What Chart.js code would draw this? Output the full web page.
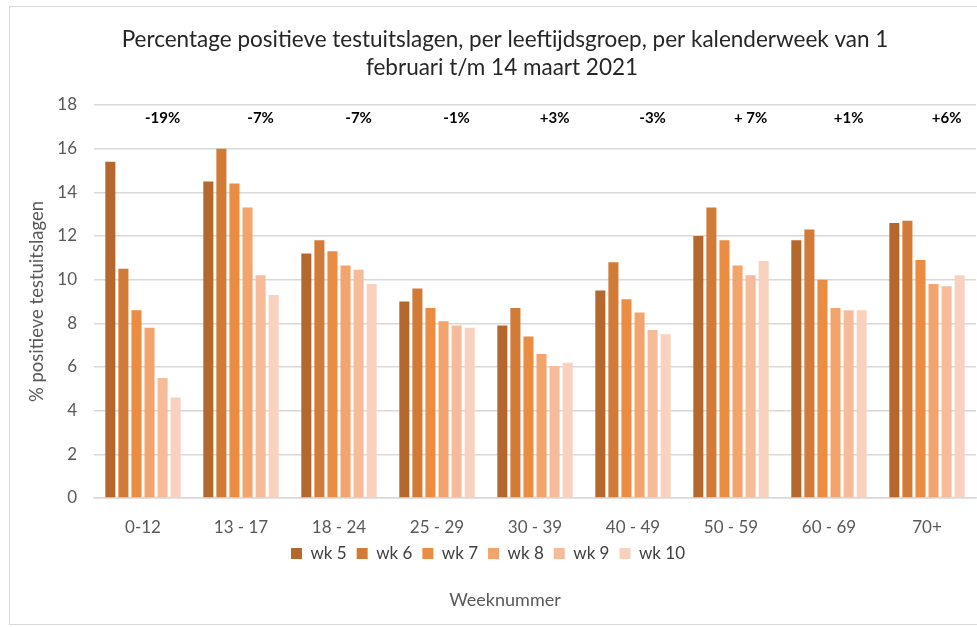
<!DOCTYPE html>
<html lang="nl">
<head>
<meta charset="utf-8">
<title>Percentage positieve testuitslagen per leeftijdsgroep</title>
<script src="https://cdn.jsdelivr.net/npm/chart.js@4.4.1/dist/chart.umd.min.js"></script>
<style>
  html, body { margin: 0; padding: 0; background: #fff; overflow: hidden; }
  #wrap  { position: relative; width: 977px; height: 627px; }
  #frame { position: absolute; left: 9px; top: 6px; width: 1000px; height: 619px;
           border: 1px solid #d9d9d9; box-sizing: border-box; }
  #chart { position: absolute; left: 0; top: 0; }
</style>
</head>
<body>
<div id="wrap">
  <div id="frame"></div>
  <canvas id="chart" width="977" height="627"></canvas>
</div>
<script>
// Percentage positieve testuitslagen per leeftijdsgroep, wk 5 t/m wk 10 (2021)

const AGE_GROUPS = ['0-12', '13 - 17', '18 - 24', '25 - 29', '30 - 39', '40 - 49', '50 - 59', '60 - 69', '70+'];
const WEEKS      = ['wk 5', 'wk 6', 'wk 7', 'wk 8', 'wk 9', 'wk 10'];

const WK5  = [15.4, 14.5, 11.2,  9.0, 7.9,  9.5, 12.0, 11.8, 12.6];
const WK6  = [10.5, 16.0, 11.8,  9.6, 8.7, 10.8, 13.3, 12.3, 12.7];
const WK7  = [ 8.6, 14.4, 11.3,  8.7, 7.4,  9.1, 11.8, 10.0, 10.9];
const WK8  = [ 7.8, 13.3, 10.65, 8.1, 6.6,  8.5, 10.65, 8.7,  9.8];
const WK9  = [ 5.5, 10.2, 10.45, 7.9, 6.05, 7.7, 10.2,  8.6,  9.7];
const WK10 = [ 4.6,  9.3,  9.8,  7.8, 6.2,  7.5, 10.85, 8.6, 10.2];

// change wk 5 -> wk 10 per group, as printed above the bars
const CHANGES = ['-19%', '-7%', '-7%', '-1%', '+3%', '-3%', '+ 7%', '+1%', '+6%'];

const Y_TICKS = [0, 2, 4, 6, 8, 10, 12, 14, 16, 18];

const TITLE_LINES = ['Percentage positieve testuitslagen, per leeftijdsgroep, per kalenderweek van 1',
                     'februari t/m 14 maart 2021'];
const Y_TITLE = '% positieve testuitslagen';
const X_TITLE = 'Weeknummer';

(function () {
  'use strict';

  const FONT    = 'Lato, "Open Sans", sans-serif';
  const GREY    = '#595959';
  const GRID    = '#d9d9d9';
  const COLOURS = ['#b5682e', '#d17b36', '#ea8c42', '#f3a46c', '#f6bb98', '#f9d2bf'];
  const SERIES  = [WK5, WK6, WK7, WK8, WK9, WK10];

  // ---- Extra text: title, percent changes, x-axis caption ---------------
  const textPlugin = {
    id: 'extraText',
    afterDatasetsDraw: function (chart) {
      const ctx = chart.ctx;
      const y   = chart.scales.y;
      // changes sit above the wk 9 bar of each group
      const anchor = chart.getDatasetMeta(4).data;
      ctx.save();
      ctx.fillStyle    = '#000';
      ctx.font         = 'bold 15px ' + FONT;
      ctx.textAlign    = 'center';
      ctx.textBaseline = 'middle';
      CHANGES.forEach(function (txt, i) {
        ctx.fillText(txt, anchor[i].x, y.getPixelForValue(17.4));
      });
      ctx.restore();
    },
    afterDraw: function (chart) {
      const ctx = chart.ctx;
      ctx.save();
      ctx.textAlign    = 'center';
      ctx.textBaseline = 'middle';
      ctx.fillStyle    = '#262626';
      ctx.font         = '22.5px ' + FONT;
      ctx.fillText(TITLE_LINES[0], 505, 40);
      ctx.fillText(TITLE_LINES[1], 502, 68);
      ctx.fillStyle    = GREY;
      ctx.font         = '18px ' + FONT;
      ctx.fillText(X_TITLE, 505, 600);
      ctx.restore();
    }
  };

  // ---- Chart --------------------------------------------------------------
  function init() {
    const canvas = document.getElementById('chart');
    if (!canvas) return;

    const datasets = WEEKS.map(function (wk, i) {
      return {
        label: wk,
        data: SERIES[i],
        backgroundColor: COLOURS[i],
        borderWidth: 0,
        categoryPercentage: 0.8,
        barPercentage: 0.77
      };
    });

    new Chart(canvas, {
      type: 'bar',
      data: { labels: AGE_GROUPS, datasets: datasets },
      plugins: [textPlugin],
      options: {
        responsive: false,
        animation: false,
        layout: { padding: { top: 105, right: 1, bottom: 55, left: 0 } },
        scales: {
          x: {
            afterFit: function (scale) { scale.height = 37; },
            grid: { display: false, drawTicks: false },
            border: { color: GRID, width: 1.5 },
            ticks: { color: GREY, padding: 19, font: { family: FONT, size: 17 } }
          },
          y: {
            min: 0,
            max: 18,
            afterBuildTicks: function (scale) {
              scale.ticks = Y_TICKS.map(function (v) { return { value: v }; });
            },
            afterFit: function (scale) { scale.width = 94; },
            grid: { color: GRID, lineWidth: 1.5, drawTicks: false },
            border: { display: false },
            ticks: { color: GREY, padding: 17, font: { family: FONT, size: 17 } },
            title: {
              display: true,
              text: Y_TITLE,
              color: GREY,
              padding: { top: 26, bottom: 0 },
              font: { family: FONT, size: 18.5 }
            }
          }
        },
        plugins: {
          legend: {
            position: 'bottom',
            labels: {
              boxWidth: 11,
              boxHeight: 11,
              padding: 10,
              color: '#404040',
              font: { family: FONT, size: 17 }
            }
          },
          tooltip: { enabled: false }
        }
      }
    });
  }

  window.addEventListener('DOMContentLoaded', init);
})();
</script>
</body>
</html>
